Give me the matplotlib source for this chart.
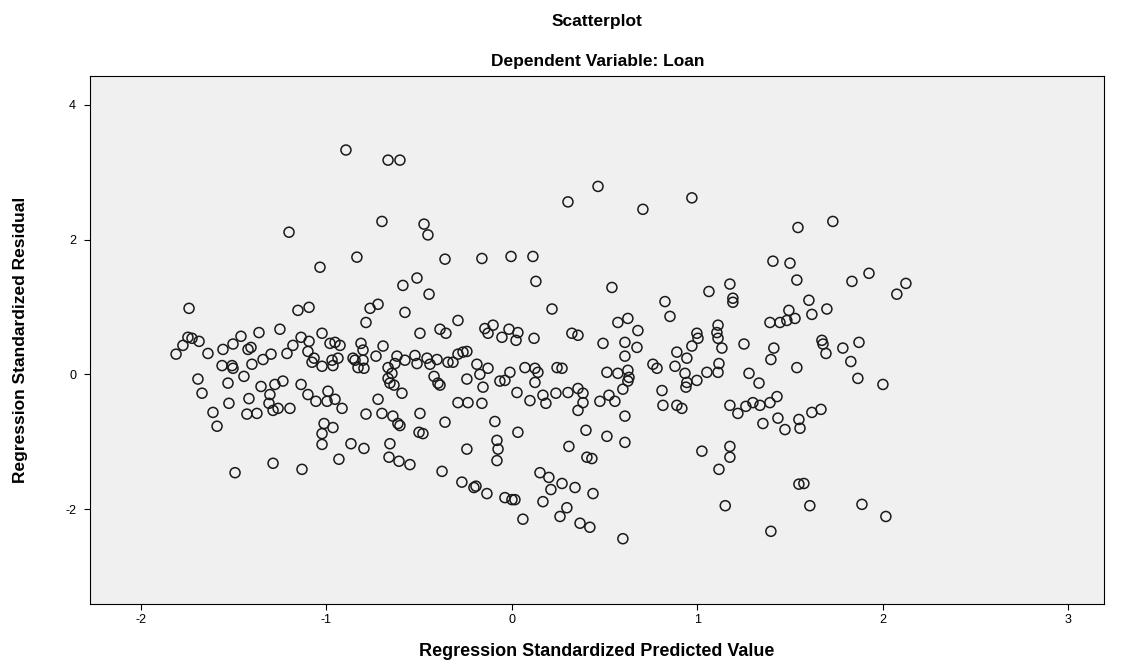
import matplotlib
matplotlib.use("Agg")
import matplotlib.pyplot as plt

title_main = "Scatterplot"
title_sub = "Dependent Variable: Loan"
x_label = "Regression Standardized Predicted Value"
y_label = "Regression Standardized Residual"
x_ticks = [-2, -1, 0, 1, 2, 3]
y_ticks = [-2, 0, 2, 4]

predicted = [
    -0.895, -0.668, -0.604, 0.464, 0.302, 0.706, 0.970, 0.113, 0.129, 0.539,
    1.062, 0.825, 1.542, 1.730, 1.407, 1.499, 1.536, 1.175, 1.833, 1.925,
    2.124, 2.075, 1.191, 1.191, 1.601, -1.202, -1.035, -0.836, -0.701, -0.474,
    -0.453, -0.361, -0.162, -0.005, -0.588, -0.512, -0.447,
    -1.741, -1.154, -1.094, -1.747, -1.774, -1.725, -1.687, -1.811, -1.639,
    -1.558, -1.504, -1.461, -1.364, -1.251, -1.423, -1.407, -1.563, -1.509,
    -1.504, -1.402, -1.342, -1.299, -1.213, -1.181, -1.137, -1.094, -1.100,
    -1.024, -0.981, -0.954, -0.927, -1.067, -1.078, -1.024, -0.970, -0.965,
    -0.938, -0.857, -1.445, -1.693, -1.671, -1.531, -1.353, -1.278, -1.235,
    -1.305, -1.137, -1.100, -1.057, -0.992, -0.997, -0.954, -0.916, -1.310,
    -1.288, -1.261, -1.197, -1.418, -1.526, -1.612, -1.429, -1.375, -1.590,
    -1.013, -0.965, -1.024, -1.024, -0.868, -1.493, -1.288, -1.132, -0.933,
    -0.765, -0.722, -0.577, -0.787, -0.291, -0.496, -0.388, -0.356, -0.146,
    -0.102, -0.129, -0.054, -0.016, 0.032, 0.022, 0.119, -0.814, -0.803,
    -0.695, -0.846, -0.803, -0.830, -0.798, -0.733, -0.620, -0.631, -0.577,
    -0.668, -0.647, -0.523, -0.512, -0.458, -0.442, -0.404, -0.345, -0.318,
    -0.291, -0.264, -0.243, -0.189, -0.129, -0.173, -0.243, -0.420, -0.399,
    -0.388, -0.658, -0.636, -0.668, -0.593, -0.722, -0.156, -0.065, -0.038,
    -0.011, 0.070, 0.124, 0.140, 0.124, 0.027, 0.097, -0.291, -0.237,
    -0.162, -0.496, -0.787, -0.701, -0.642, -0.615, -0.604, -0.361, -0.092,
    -0.501, -0.480, 0.032, -0.081, -0.658,
    -0.798, -0.663, -0.609, -0.550, -0.377, -0.243, -0.075, -0.081, -0.270,
    -0.205, -0.194, -0.135, -0.038, 0.000, 0.016, 0.059, 0.151, 0.167,
    0.216, 0.852, 0.571, 0.625, 0.679, 0.323, 0.356, 0.491, 0.609, 0.674,
    0.609, 0.997, 1.003, 0.970, 1.111, 1.105, 1.111, 1.132, 0.889, 0.943,
    0.760, 0.782, 0.879, 0.243, 0.270, 0.512, 0.571, 0.625, 0.631, 0.625,
    0.933, 0.997, 0.943, 0.938, 1.051, 1.111, 1.116, 0.356, 0.383, 0.302,
    0.237, 0.167, 0.598, 0.523, 0.555, 0.474, 0.383, 0.356, 0.183, 0.809,
    0.814, 0.889, 0.916, 0.609, 0.399, 0.512, 0.609, 0.307,
    0.404, 0.431, 1.024, 1.116, 0.199, 0.270, 0.340, 0.210, 0.437, 0.296,
    0.259, 0.367, 0.420, 0.598, 1.150,
    1.493, 1.698, 1.617, 1.391, 1.445, 1.482, 1.526, 1.251, 1.412, 1.396,
    1.671, 1.677, 1.693, 1.784, 1.871, 1.827, 1.536, 1.865, 2.000, 1.278,
    1.332, 1.175, 1.218, 1.261, 1.299, 1.337, 1.391, 1.429, 1.434, 1.353,
    1.472, 1.547, 1.553, 1.617, 1.666, 1.175,
    1.175, 1.547, 1.574, 1.606, 1.887, 2.016, 1.396,
]

residual = [
    3.33, 3.18, 3.18, 2.79, 2.56, 2.45, 2.62, 1.75, 1.38, 1.29,
    1.23, 1.08, 2.18, 2.27, 1.68, 1.65, 1.40, 1.34, 1.38, 1.50,
    1.35, 1.19, 1.13, 1.07, 1.10, 2.11, 1.59, 1.74, 2.27, 2.23,
    2.07, 1.71, 1.72, 1.75, 1.32, 1.43, 1.19,
    0.98, 0.95, 0.995, 0.55, 0.43, 0.535, 0.49, 0.30, 0.31,
    0.37, 0.45, 0.565, 0.62, 0.67, 0.37, 0.40, 0.13, 0.13,
    0.09, 0.15, 0.22, 0.30, 0.31, 0.43, 0.55, 0.49, 0.34,
    0.61, 0.46, 0.475, 0.43, 0.24, 0.18, 0.12, 0.21, 0.13,
    0.24, 0.24, -0.03, -0.07, -0.28, -0.13, -0.18, -0.15, -0.10,
    -0.30, -0.15, -0.30, -0.40, -0.25, -0.40, -0.37, -0.505, -0.43,
    -0.535, -0.505, -0.505, -0.36, -0.43, -0.565, -0.59, -0.58, -0.77,
    -0.73, -0.79, -0.88, -1.04, -1.03, -1.46, -1.32, -1.41, -1.26,
    0.98, 1.04, 0.92, 0.77, 0.80, 0.61, 0.67, 0.61, 0.68,
    0.73, 0.61, 0.55, 0.67, 0.62, 0.505, 0.535, 0.46, 0.36,
    0.42, 0.21, 0.21, 0.10, 0.09, 0.27, 0.27, 0.16, 0.21,
    0.10, 0.015, 0.28, 0.16, 0.24, 0.15, 0.22, 0.18, 0.18,
    0.30, 0.33, 0.34, 0.15, 0.09, 0.00, -0.07, -0.03, -0.13,
    -0.16, -0.13, -0.16, -0.06, -0.28, -0.37, -0.19, -0.10, -0.09,
    0.03, 0.10, 0.09, 0.03, -0.12, -0.27, -0.39, -0.42, -0.42,
    -0.43, -0.58, -0.59, -0.58, -0.62, -0.73, -0.76, -0.71, -0.70,
    -0.86, -0.88, -0.86, -0.98, -1.03,
    -1.10, -1.23, -1.29, -1.34, -1.44, -1.11, -1.11, -1.28, -1.60,
    -1.68, -1.66, -1.77, -1.83, -1.86, -1.86, -2.15, -1.46, -1.89,
    0.97, 0.86, 0.77, 0.83, 0.65, 0.61, 0.58, 0.46, 0.475, 0.40,
    0.27, 0.61, 0.535, 0.42, 0.73, 0.62, 0.535, 0.39, 0.33, 0.24,
    0.15, 0.09, 0.12, 0.10, 0.09, 0.03, 0.015, 0.06, -0.045, -0.10,
    0.015, -0.09, -0.12, -0.19, 0.03, 0.03, 0.16, -0.21, -0.28, -0.27,
    -0.28, -0.31, -0.22, -0.31, -0.40, -0.40, -0.42, -0.535, -0.43, -0.24,
    -0.46, -0.46, -0.505, -0.62, -0.83, -0.92, -1.01, -1.07,
    -1.23, -1.25, -1.14, -1.41, -1.53, -1.62, -1.68, -1.71, -1.77, -1.98,
    -2.11, -2.21, -2.27, -2.44, -1.95,
    0.95, 0.97, 0.89, 0.77, 0.77, 0.80, 0.83, 0.45, 0.39, 0.22,
    0.505, 0.45, 0.31, 0.39, 0.475, 0.19, 0.10, -0.06, -0.15, 0.015,
    -0.13, -0.46, -0.58, -0.475, -0.42, -0.46, -0.42, -0.33, -0.65, -0.73,
    -0.82, -0.67, -0.80, -0.565, -0.52, -1.07,
    -1.23, -1.63, -1.62, -1.95, -1.93, -2.11, -2.33,
]

plt.rcParams['font.family'] = ['Liberation Sans', 'DejaVu Sans']
plt.rcParams['axes.unicode_minus'] = False

fig = plt.figure(figsize=(11.25, 6.66), dpi=100)
ax = fig.add_axes([0.080, 0.093, 0.901, 0.793])
ax.set_facecolor('#f0f0f0')

ax.scatter(predicted, residual, s=52, facecolors='none', edgecolors='#1a1a1a',
           linewidths=1.1, zorder=3)

ax.set_xlim(-2.275, 3.19)
ax.set_ylim(-3.41, 4.43)
ax.set_xticks(x_ticks)
ax.set_xticklabels([str(t) for t in x_ticks])
ax.set_yticks(y_ticks)
ax.set_yticklabels([str(t) for t in y_ticks])
ax.tick_params(axis='both', direction='out', length=4, width=0.8,
               labelsize=9, colors='black')
ax.tick_params(axis='y', pad=6)
for sp in ax.spines.values():
    sp.set_linewidth(0.8)
    sp.set_color('black')

ax.set_xlabel(x_label, fontsize=13, fontweight='bold')
ax.xaxis.set_label_coords(0.5, -0.073)
ax.set_ylabel(y_label, fontsize=12.5, fontweight='bold')
ax.yaxis.set_label_coords(-0.061, 0.5)

fig.text(0.531, 0.968, title_main, ha='center', va='center',
         fontsize=12.5, fontweight='bold')
fig.text(0.531, 0.907, title_sub, ha='center', va='center',
         fontsize=12.5, fontweight='bold')

fig.savefig('out.png', dpi=100, facecolor='white')
